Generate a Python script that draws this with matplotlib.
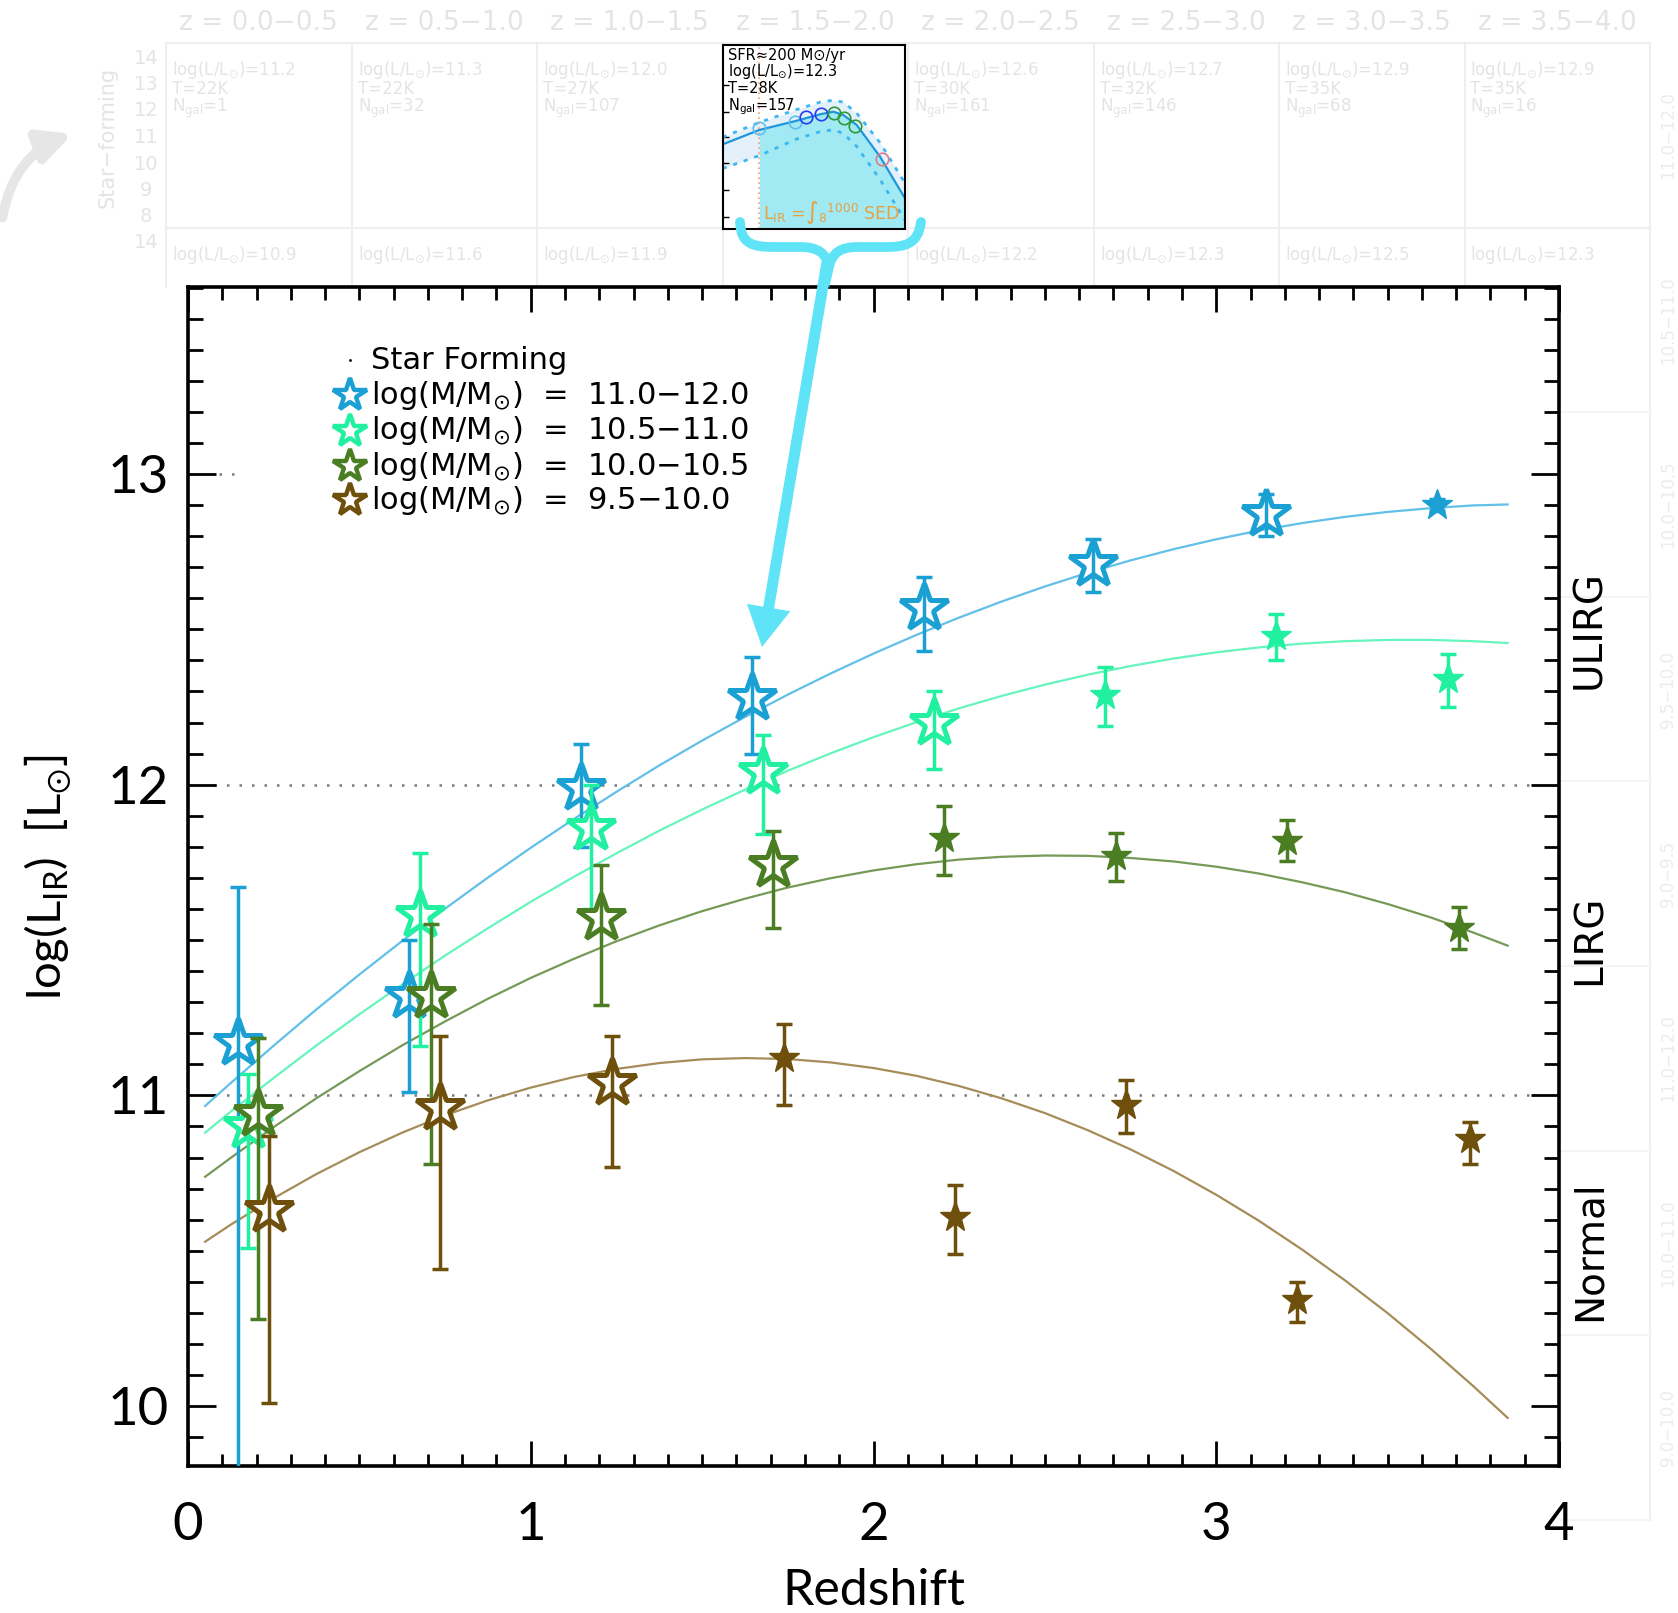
import numpy as np
import matplotlib
matplotlib.use('Agg')
import matplotlib.pyplot as plt
from matplotlib.ticker import MultipleLocator
from matplotlib.patches import FancyArrow, FancyArrowPatch, PathPatch
from matplotlib.path import Path

# ---- data ----
labels = ['log(M/$\\mathregular{M_{\\odot}}$)  =  11.0−12.0',
          'log(M/$\\mathregular{M_{\\odot}}$)  =  10.5−11.0',
          'log(M/$\\mathregular{M_{\\odot}}$)  =  10.0−10.5',
          'log(M/$\\mathregular{M_{\\odot}}$)  =  9.5−10.0']
colors = ['#1ba0d3', '#20f0a0', '#4b7d23', '#6e500c']
line_colors = ['#62c0e8', '#66f5bd', '#759a58', '#a68c58']

z_blue = [0.146, 0.645, 1.148, 1.646, 2.147, 2.641, 3.145, 3.643]
L_blue = [11.17, 11.32, 11.99, 12.28, 12.57, 12.71, 12.87, 12.90]
hi_blue = [0.50, 0.18, 0.14, 0.13, 0.10, 0.08, 0.065, 0.02]
lo_blue = [1.60, 0.31, 0.19, 0.18, 0.14, 0.09, 0.07, 0.02]

z_mint = [0.175, 0.678, 1.177, 1.677, 2.176, 2.676, 3.175, 3.675]
L_mint = [10.90, 11.58, 11.86, 12.04, 12.20, 12.29, 12.48, 12.34]
hi_mint = [0.17, 0.20, 0.14, 0.12, 0.10, 0.09, 0.07, 0.08]
lo_mint = [0.39, 0.42, 0.26, 0.20, 0.15, 0.10, 0.08, 0.09]

z_dgreen = [0.204, 0.708, 1.206, 1.708, 2.206, 2.707, 3.206, 3.709]
L_dgreen = [10.94, 11.32, 11.57, 11.74, 11.83, 11.77, 11.82, 11.54]
hi_dgreen = [0.245, 0.23, 0.17, 0.11, 0.10, 0.075, 0.065, 0.065]
lo_dgreen = [0.66, 0.54, 0.28, 0.20, 0.12, 0.08, 0.065, 0.07]

z_brown = [0.236, 0.736, 1.237, 1.738, 2.237, 2.737, 3.237, 3.740]
L_brown = [10.63, 10.96, 11.04, 11.12, 10.61, 10.97, 10.34, 10.86]
hi_brown = [0.24, 0.23, 0.15, 0.11, 0.10, 0.08, 0.06, 0.055]
lo_brown = [0.62, 0.52, 0.27, 0.15, 0.12, 0.09, 0.07, 0.08]

# number of open (hollow) stars at the start of each series, rest are filled
n_open = [7, 5, 4, 3]

# fitted curves
z_fit = [0.05, 0.125, 0.25, 0.375, 0.5, 0.625, 0.75, 0.875, 1.0, 1.125, 1.25, 1.375,
         1.5, 1.625, 1.75, 1.875, 2.0, 2.125, 2.25, 2.375, 2.5, 2.625, 2.75, 2.875,
         3.0, 3.125, 3.25, 3.375, 3.5, 3.625, 3.75, 3.85]
fit_blue = [10.966, 11.040, 11.160, 11.277, 11.389, 11.497, 11.601, 11.701, 11.797,
            11.889, 11.977, 12.062, 12.142, 12.218, 12.290, 12.358, 12.422, 12.482,
            12.538, 12.590, 12.638, 12.682, 12.722, 12.758, 12.790, 12.818, 12.842,
            12.862, 12.878, 12.890, 12.899, 12.902]
fit_mint = [10.880, 10.948, 11.056, 11.161, 11.261, 11.357, 11.450, 11.538, 11.623,
            11.703, 11.779, 11.852, 11.920, 11.984, 12.045, 12.101, 12.153, 12.201,
            12.246, 12.286, 12.322, 12.354, 12.382, 12.406, 12.426, 12.442, 12.454,
            12.462, 12.466, 12.466, 12.462, 12.456]
fit_dgreen = [10.738, 10.799, 10.898, 10.991, 11.078, 11.161, 11.238, 11.311, 11.378,
              11.439, 11.496, 11.547, 11.593, 11.633, 11.669, 11.699, 11.724, 11.744,
              11.759, 11.768, 11.772, 11.771, 11.764, 11.753, 11.736, 11.714, 11.686,
              11.654, 11.616, 11.573, 11.524, 11.482]
fit_brown = [10.529, 10.584, 10.669, 10.747, 10.817, 10.880, 10.936, 10.984, 11.025,
             11.059, 11.085, 11.104, 11.116, 11.120, 11.117, 11.106, 11.088, 11.063,
             11.030, 10.990, 10.943, 10.888, 10.826, 10.757, 10.680, 10.596, 10.504,
             10.405, 10.299, 10.185, 10.064, 9.962]

class_names = ['ULIRG', 'LIRG', 'Normal']
class_y = [12.5, 11.5, 10.5]

# inset SED (axes fraction units)
sed_x = [0.0, 0.201, 0.406, 0.534, 0.607, 0.662, 0.735, 0.863, 1.0]
sed_y = [0.461, 0.539, 0.589, 0.624, 0.638, 0.620, 0.566, 0.394, 0.168]
sed_hi = [0.50, 0.58, 0.65, 0.69, 0.70, 0.69, 0.63, 0.47, 0.25]
sed_lo = [0.33, 0.40, 0.49, 0.53, 0.54, 0.52, 0.45, 0.27, 0.05]
pts_x = [0.201, 0.397, 0.457, 0.537, 0.611, 0.665, 0.726, 0.872]
pts_y = [0.552, 0.584, 0.608, 0.626, 0.633, 0.602, 0.561, 0.380]
pts_c = ['#5fc0f0', '#5fc0f0', '#2a3cf0', '#2a3cf0', '#2e9a3a', '#2e9a3a', '#2e9a3a', '#e07a8a']

# faint background panels
z_bins = ['z = 0.0−0.5', 'z = 0.5−1.0', 'z = 1.0−1.5', 'z = 1.5−2.0',
          'z = 2.0−2.5', 'z = 2.5−3.0', 'z = 3.0−3.5', 'z = 3.5−4.0']
bg_logL = ['11.2', '11.3', '12.0', '', '12.6', '12.7', '12.9', '12.9']
bg_T = ['22K', '22K', '27K', '', '30K', '32K', '35K', '35K']
bg_N = ['1', '32', '107', '', '161', '146', '68', '16']
bg_logL2 = ['10.9', '11.6', '11.9', '', '12.2', '12.3', '12.5', '12.3']
row_labels = ['11.0−12.0', '10.5−11.0', '10.0−10.5', '9.5−10.0', '9.0−9.5',
              '11.0−12.0', '10.0−11.0', '9.0−10.0']

W, H = 1678, 1613
fig = plt.figure(figsize=(W / 100, H / 100), dpi=100)
narrow = ['Liberation Sans Narrow', 'DejaVu Sans']
thin = ['Lato', 'DejaVu Sans']
faint = '#e4e4e4'

# ---- background layer (pixel coordinates) ----
bg = fig.add_axes([0, 0, 1, 1], zorder=0)
bg.set_xlim(0, W)
bg.set_ylim(H, 0)
bg.axis('off')
col_edges = [166 + 185.5 * i for i in range(9)]
row_edges = [43 + 184.6 * i for i in range(9)]
for i, xe in enumerate(col_edges):
    bg.plot([xe, xe], [43, 287 if i < 8 else row_edges[-1]], color='#efefef', lw=1.5)
for j, ye in enumerate(row_edges):
    if ye < 287:
        bg.plot([166, col_edges[-1]], [ye, ye], color='#efefef', lw=1.5)
    else:
        bg.plot([1560, col_edges[-1]], [ye, ye], color='#f2f2f2', lw=1.2)
for i in range(8):
    xc = (col_edges[i] + col_edges[i + 1]) / 2
    bg.text(xc, 23, z_bins[i], ha='center', va='center', fontsize=19, color=faint)
    if bg_logL[i]:
        x0 = col_edges[i] + 6
        bg.text(x0, 70, 'log(L/$\\mathregular{L_{\\odot}}$)=' + bg_logL[i], fontsize=12,
                color=faint, va='center', family=narrow)
        bg.text(x0, 89, 'T=' + bg_T[i], fontsize=12, color=faint, va='center', family=narrow)
        bg.text(x0, 108, '$\\mathregular{N_{gal}}$=' + bg_N[i], fontsize=12, color=faint,
                va='center', family=narrow)
        bg.text(x0, 255, 'log(L/$\\mathregular{L_{\\odot}}$)=' + bg_logL2[i], fontsize=12,
                color=faint, va='center', family=narrow)
for k, t in enumerate(['14', '13', '12', '11', '10', '9', '8']):
    bg.text(146, 58 + 26.5 * k, t, ha='center', va='center', fontsize=14, color=faint,
            family=narrow)
bg.text(146, 243, '14', ha='center', va='center', fontsize=14, color=faint, family=narrow)
bg.text(108, 137, 'Star−forming', rotation=90, ha='center', va='center', fontsize=15,
        color=faint)
for j, t in enumerate(row_labels):
    bg.text(1668, (row_edges[j] + row_edges[j + 1]) / 2, t, rotation=90, ha='center',
            va='center', fontsize=12, color='#ececec', family=narrow)
bg.add_patch(FancyArrowPatch((2, 220), (75, 133), connectionstyle='arc3,rad=-0.3',
                             arrowstyle='-|>', mutation_scale=48, lw=7, color='#e6e6e6'))

# ---- main axes ----
ax = fig.add_axes([188 / W, 1 - 1466 / H, 1371 / W, 1179 / H], zorder=1)
ax.set_facecolor('white')

fits = [fit_blue, fit_mint, fit_dgreen, fit_brown]
series = [(z_blue, L_blue, lo_blue, hi_blue), (z_mint, L_mint, lo_mint, hi_mint),
          (z_dgreen, L_dgreen, lo_dgreen, hi_dgreen), (z_brown, L_brown, lo_brown, hi_brown)]

ax.hlines([11, 12], 0.075, 3.92, colors='#7a7a7a', linestyles=(0, (1, 4)), lw=1.8, zorder=1)
ax.hlines(13, 0.09, 0.15, colors='#7a7a7a', linestyles=(0, (1, 4)), lw=1.8, zorder=1)

for k in range(4):
    ax.plot(z_fit, fits[k], color=line_colors[k], lw=1.6, zorder=2)
for k in range(4):
    zs, Ls, lo, hi = [np.array(a) for a in series[k]]
    n = n_open[k]
    c = colors[k]
    ax.plot(zs[:n], Ls[:n], ls='none', marker='*', ms=36, mfc='white', mec=c, mew=3.6,
            zorder=3 + k * 0.1)
    ax.plot(zs[n:], Ls[n:], ls='none', marker='*', ms=23, mfc=c, mec=c, mew=1,
            zorder=3 + k * 0.1)
    ax.errorbar(zs, Ls, yerr=[lo, hi], fmt='none', ecolor=c, elinewidth=2.5, capsize=5.5,
                capthick=2.5, zorder=3.05 + k * 0.1)

ax.set_xlim(0, 4)
ax.set_ylim(9.807, 13.602)
ax.xaxis.set_major_locator(MultipleLocator(1))
ax.xaxis.set_minor_locator(MultipleLocator(0.1))
ax.yaxis.set_major_locator(MultipleLocator(1))
ax.yaxis.set_minor_locator(MultipleLocator(0.1))
ax.tick_params(which='both', direction='in', top=True, right=True, width=2, colors='black')
ax.tick_params(axis='x', which='major', length=18, pad=26, labelsize=38)
ax.tick_params(axis='x', which='minor', length=9)
ax.tick_params(axis='y', which='major', length=20, pad=14, labelsize=38)
ax.tick_params(axis='y', which='minor', length=11)
for lab in ax.get_xticklabels() + ax.get_yticklabels():
    lab.set_family(thin)
for s in ax.spines.values():
    s.set_linewidth(2.6)

ax.text(0.5, -0.106, 'Redshift', transform=ax.transAxes, ha='center', va='center',
        fontsize=36, family=thin)
ax.text(-0.102, 0.499, 'log($\\mathregular{L_{IR}}$)  [$\\mathregular{L_{\\odot}}$]',
        transform=ax.transAxes, rotation=90, ha='center', va='center', fontsize=34,
        family=thin)
for name, yv in zip(class_names, class_y):
    ax.text(1.022, yv, name, transform=ax.get_yaxis_transform(), rotation=90, ha='center',
            va='center', fontsize=28, family=narrow)

# legend, drawn by hand
leg_y = [0.938, 0.908, 0.878, 0.848, 0.819]
ax.plot([0.118], [leg_y[0]], marker='.', ms=2, color='black', transform=ax.transAxes)
ax.text(0.1335, leg_y[0], 'Star Forming', transform=ax.transAxes, va='center', fontsize=22)
for k in range(4):
    ax.plot([0.118], [leg_y[k + 1]], ls='none', marker='*', ms=25, mfc='white',
            mec=colors[k], mew=3.2, transform=ax.transAxes)
    ax.text(0.1335, leg_y[k + 1], labels[k], transform=ax.transAxes, va='center',
            fontsize=22)

# ---- inset SED panel ----
ins = fig.add_axes([722.7 / W, 1 - 229.3 / H, 182.3 / W, 184.3 / H], zorder=2)
ins.set_xlim(0, 1)
ins.set_ylim(0, 1)
ins.fill_between(sed_x, sed_lo, sed_hi, color='#e4f1fb', lw=0)
ins.fill_between(sed_x[1:], 0, sed_y[1:], color='#a2eaf3', lw=0)
ins.plot(sed_x, sed_hi, color='#3cb8ee', ls=(0, (1.5, 2.5)), lw=2)
ins.plot(sed_x, sed_lo, color='#3cb8ee', ls=(0, (1.5, 2.5)), lw=2)
ins.plot(sed_x, sed_y, color='#1e96dc', lw=1.6)
ins.axvline(0.201, color='#f0a078', ls=(0, (1, 2)), lw=1.2)
for px, py, pc in zip(pts_x, pts_y, pts_c):
    ins.plot(px, py, marker='o', ms=9, mfc='none', mec=pc, mew=1.2)
ins.text(0.03, 0.942, 'SFR≈200 M⊙/yr', fontsize=10.5, va='center', family=narrow)
ins.text(0.03, 0.855, 'log(L/$\\mathregular{L_{\\odot}}$)=12.3', fontsize=10.5,
         va='center', family=narrow)
ins.text(0.03, 0.762, 'T=28K', fontsize=10.5, va='center', family=narrow)
ins.text(0.03, 0.664, '$\\mathregular{N_{gal}}$=157', fontsize=10.5, va='center',
         family=narrow)
ins.text(0.22, 0.09, '$\\mathregular{L_{IR}}$ =∫$_{8}$$^{1000}$ SED', fontsize=12.5,
         color='#e8a040', ha='left', va='center', family=narrow)
ins.set_xticks([])
ins.set_yticks([0.069, 0.213, 0.358, 0.499, 0.638, 0.783])
ins.set_yticklabels([])
ins.tick_params(direction='in', length=4, width=1)
for s in ins.spines.values():
    s.set_linewidth(1.5)

# ---- brace and arrow (pixel coordinates) ----
fg = fig.add_axes([0, 0, 1, 1], zorder=3)
fg.set_xlim(0, W)
fg.set_ylim(H, 0)
fg.axis('off')
fg.patch.set_alpha(0)
cyan = '#5fe3f6'
verts = [(740, 222), (741, 244), (752, 247), (775, 247), (800, 247),
         (818, 247), (826, 253), (829, 267),
         (832, 253), (840, 247), (858, 247), (885, 247),
         (906, 247), (918, 244), (921, 222)]
codes = [Path.MOVETO, Path.CURVE4, Path.CURVE4, Path.CURVE4, Path.LINETO,
         Path.CURVE4, Path.CURVE4, Path.CURVE4,
         Path.CURVE4, Path.CURVE4, Path.CURVE4, Path.LINETO,
         Path.CURVE4, Path.CURVE4, Path.CURVE4]
fg.add_patch(PathPatch(Path(verts, codes), fill=False, edgecolor=cyan, lw=7,
                       capstyle='round'))
fg.add_patch(FancyArrow(827, 262, 762 - 827, 647 - 262, width=11, head_width=44,
                        head_length=40, length_includes_head=True, color=cyan, lw=0))

plt.savefig('out.png', dpi=100)
